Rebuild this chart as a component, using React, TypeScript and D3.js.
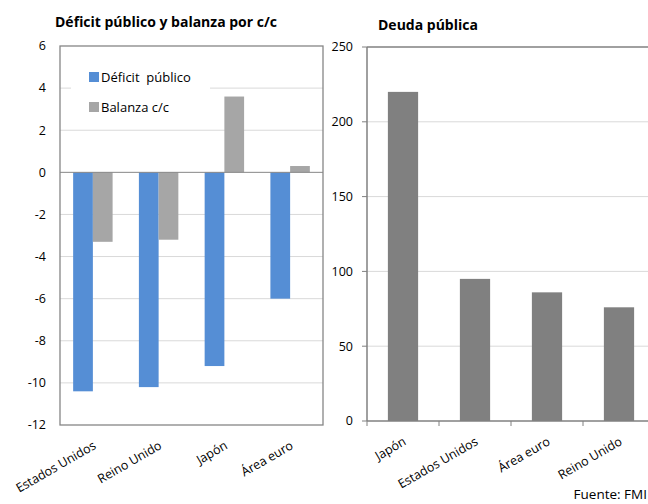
import React from "react";
import * as d3 from "d3";

// Déficit público y balanza por cuenta corriente (% del PIB)
const balanceCategories = ["Estados Unidos", "Reino Unido", "Japón", "Área euro"];
const deficitValues = [-10.4, -10.2, -9.2, -6.0];
const currentAccountValues = [-3.3, -3.2, 3.6, 0.3];
const balanceSeries = ["Déficit  público", "Balanza c/c"];
const balanceTicks = [6, 4, 2, 0, -2, -4, -6, -8, -10, -12];

// Deuda pública (% del PIB)
const debtCategories = ["Japón", "Estados Unidos", "Área euro", "Reino Unido"];
const debtValues = [220, 95, 86, 76];
const debtTicks = [0, 50, 100, 150, 200, 250];

const FONT = "'Open Sans', 'Noto Sans', sans-serif";
const BLUE = "#558ED5";
const LIGHT_GRAY = "#A6A6A6";
const DARK_GRAY = "#808080";
const GRID = "#D9D9D9";
const AXIS = "#868686";

export default function App() {
  // left panel geometry
  const L = { x0: 60, x1: 323, y0: 46, y1: 425 };
  const yL = d3.scaleLinear().domain([-12, 6]).range([L.y1, L.y0]);
  const xL = d3
    .scaleBand<string>()
    .domain(balanceCategories)
    .range([L.x0, L.x1])
    .paddingInner(0.4)
    .paddingOuter(0.2);
  const xSub = d3
    .scaleBand<string>()
    .domain(balanceSeries)
    .range([0, xL.bandwidth()]);

  // right panel geometry
  const R = { x0: 367, x1: 655, y0: 47, y1: 421 };
  const yR = d3.scaleLinear().domain([0, 250]).range([R.y1, R.y0]);
  const xR = d3
    .scaleBand<string>()
    .domain(debtCategories)
    .range([R.x0, R.x1])
    .paddingInner(0.58)
    .paddingOuter(0.29);
  const stepR = xR.step();

  const seriesValues = [deficitValues, currentAccountValues];
  const seriesColors = [BLUE, LIGHT_GRAY];

  return (
    <svg
      width={648}
      height={504}
      style={{ position: "absolute", left: 0, top: 0, background: "#fff" }}
      fontFamily={FONT}
    >
      {/* ---------- left panel ---------- */}
      <text x={55} y={27} fontSize={14} fontWeight="bold" fill="#000">
        Déficit público y balanza por c/c
      </text>
      {balanceTicks.map((t) =>
        t === 0 || t === 6 || t === -12 ? null : (
          <line
            key={"gl" + t}
            x1={L.x0}
            x2={L.x1}
            y1={yL(t)}
            y2={yL(t)}
            stroke={GRID}
            strokeWidth={1}
          />
        )
      )}
      {balanceTicks.map((t) => (
        <text
          key={"tl" + t}
          x={46}
          y={yL(t)}
          dy="0.35em"
          textAnchor="end"
          fontSize={12.5}
          fill="#000"
        >
          {t}
        </text>
      ))}
      {/* legend box hides the gridline behind it */}
      <rect x={71} y={58} width={139} height={62} fill="#fff" />
      {balanceSeries.map((s, i) => (
        <g key={"lg" + s} transform={`translate(89, ${72 + i * 30})`}>
          <rect width={10} height={10} fill={seriesColors[i]} />
          <text x={12} y={5} dy="0.35em" fontSize={13} fill="#000" style={{ whiteSpace: "pre" }}>
            {s}
          </text>
        </g>
      ))}
      {balanceCategories.map((c, ci) =>
        seriesValues.map((vals, si) => {
          const v = vals[ci];
          const x = (xL(c) ?? 0) + (xSub(balanceSeries[si]) ?? 0);
          return (
            <rect
              key={c + si}
              x={x}
              width={xSub.bandwidth()}
              y={yL(Math.max(0, v))}
              height={Math.abs(yL(v) - yL(0))}
              fill={seriesColors[si]}
            />
          );
        })
      )}
      <line x1={L.x0} x2={L.x1} y1={yL(0)} y2={yL(0)} stroke={AXIS} strokeWidth={1} />
      <rect
        x={L.x0}
        y={L.y0}
        width={L.x1 - L.x0}
        height={L.y1 - L.y0}
        fill="none"
        stroke={AXIS}
        strokeWidth={1.3}
      />
      {balanceCategories.map((c) => {
        const cx = (xL(c) ?? 0) + xL.bandwidth() / 2;
        return (
          <text
            key={"xl" + c}
            transform={`translate(${cx + 4}, ${448}) rotate(-30)`}
            textAnchor="end"
            fontSize={12.5}
            fill="#000"
          >
            {c}
          </text>
        );
      })}

      {/* ---------- right panel ---------- */}
      <text x={378} y={30} fontSize={14} fontWeight="bold" fill="#000">
        Deuda pública
      </text>
      {debtTicks.map((t) =>
        t === 0 || t === 250 ? null : (
          <line
            key={"gr" + t}
            x1={R.x0}
            x2={R.x1}
            y1={yR(t)}
            y2={yR(t)}
            stroke={GRID}
            strokeWidth={1}
          />
        )
      )}
      {debtCategories.map((c, i) => (
        <rect
          key={"db" + c}
          x={xR(c)}
          width={xR.bandwidth()}
          y={yR(debtValues[i])}
          height={yR(0) - yR(debtValues[i])}
          fill={DARK_GRAY}
        />
      ))}
      <line x1={R.x0} x2={R.x1} y1={R.y0} y2={R.y0} stroke={DARK_GRAY} strokeWidth={1.5} />
      <line x1={R.x0} x2={R.x0} y1={R.y0} y2={R.y1} stroke={DARK_GRAY} strokeWidth={1.5} />
      <line x1={R.x0} x2={R.x1} y1={R.y1} y2={R.y1} stroke={DARK_GRAY} strokeWidth={1.5} />
      {debtTicks.map((t) => (
        <g key={"tr" + t}>
          <line x1={R.x0 - 5} x2={R.x0} y1={yR(t)} y2={yR(t)} stroke={DARK_GRAY} strokeWidth={1} />
          <text
            x={353}
            y={yR(t)}
            dy="0.35em"
            textAnchor="end"
            fontSize={12.5}
            fill="#000"
          >
            {t}
          </text>
        </g>
      ))}
      {d3.range(debtCategories.length + 1).map((i) => (
        <line
          key={"xt" + i}
          x1={R.x0 + i * stepR}
          x2={R.x0 + i * stepR}
          y1={R.y1}
          y2={R.y1 + 5}
          stroke={DARK_GRAY}
          strokeWidth={1}
        />
      ))}
      {debtCategories.map((c) => {
        const cx = (xR(c) ?? 0) + xR.bandwidth() / 2;
        return (
          <text
            key={"xr" + c}
            transform={`translate(${cx + 4}, ${444}) rotate(-30)`}
            textAnchor="end"
            fontSize={12.5}
            fill="#000"
          >
            {c}
          </text>
        );
      })}
      <text x={647} y={499} textAnchor="end" fontSize={13.5} fill="#000">
        Fuente: FMI
      </text>
    </svg>
  );
}
